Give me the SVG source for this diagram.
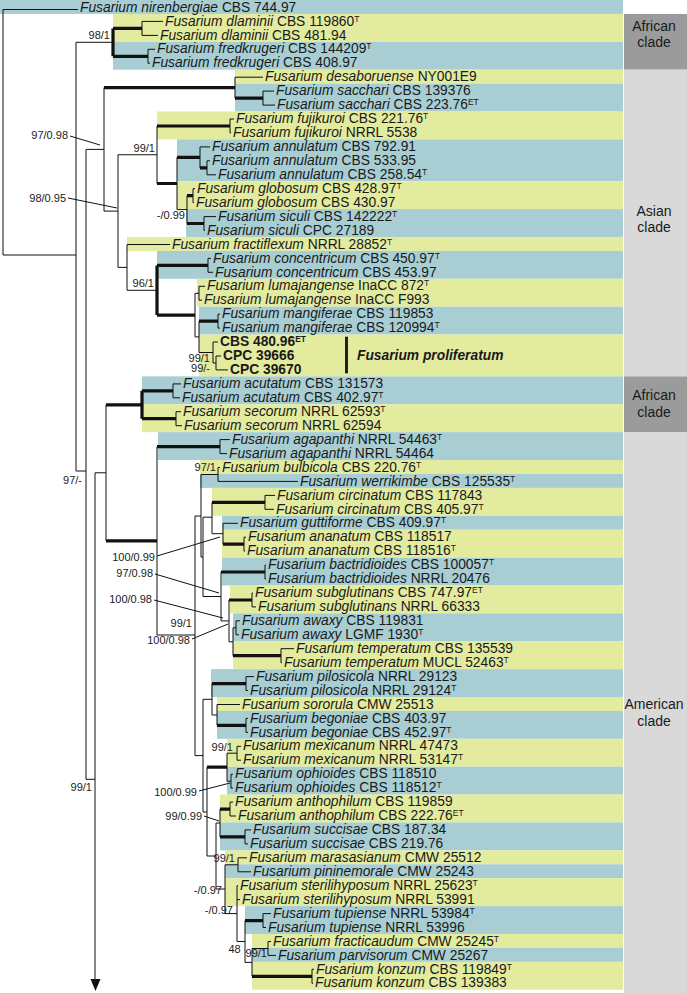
<svg xmlns="http://www.w3.org/2000/svg" width="687" height="993" viewBox="0 0 687 993">
<style>
.ln{fill:none;stroke:#111;stroke-width:1}
.tk{fill:none;stroke:#111;stroke-width:3.2}
.tl{fill:#a8ced3}
.yl{fill:#e3eb9f}
.dg{fill:#9b9b9b}
.lg{fill:#d9d9d9}
text{font-family:"Liberation Sans",Arial,sans-serif;fill:#1a1a1a}
.lf{font-size:13.8px}
.i{font-style:italic}
.bd{font-weight:bold}
.sp{font-size:8.5px}
.s{font-size:11px;text-anchor:end}
.c{font-size:14px;text-anchor:middle}
</style>
<rect width="687" height="993" fill="#fff"/>
<g id="bands">
<rect class="tl" x="0" y="0" width="623" height="13.94"/>
<rect class="yl" x="113" y="13.94" width="510" height="27.88"/>
<rect class="tl" x="113" y="41.82" width="510" height="27.88"/>
<rect class="yl" x="235" y="69.70" width="388" height="13.94"/>
<rect class="tl" x="235" y="83.64" width="388" height="27.88"/>
<rect class="yl" x="157" y="111.52" width="466" height="27.88"/>
<rect class="tl" x="177" y="139.40" width="446" height="41.82"/>
<rect class="yl" x="177" y="181.22" width="446" height="27.88"/>
<rect class="tl" x="186" y="209.10" width="437" height="27.88"/>
<rect class="yl" x="127" y="236.98" width="496" height="13.94"/>
<rect class="tl" x="157" y="250.92" width="466" height="27.88"/>
<rect class="yl" x="197" y="278.80" width="426" height="27.88"/>
<rect class="tl" x="199" y="306.68" width="424" height="27.88"/>
<rect class="yl" x="199" y="334.56" width="424" height="41.82"/>
<rect class="tl" x="142" y="376.38" width="481" height="27.88"/>
<rect class="yl" x="142" y="404.26" width="481" height="27.88"/>
<rect class="tl" x="158" y="432.14" width="465" height="27.88"/>
<rect class="yl" x="200" y="460.02" width="423" height="13.94"/>
<rect class="tl" x="200" y="473.96" width="423" height="13.94"/>
<rect class="yl" x="212" y="487.90" width="411" height="27.88"/>
<rect class="tl" x="222" y="515.78" width="401" height="13.94"/>
<rect class="yl" x="222" y="529.72" width="401" height="27.88"/>
<rect class="tl" x="222" y="557.60" width="401" height="27.88"/>
<rect class="yl" x="230" y="585.48" width="393" height="27.88"/>
<rect class="tl" x="233" y="613.36" width="390" height="27.88"/>
<rect class="yl" x="233" y="641.24" width="390" height="27.88"/>
<rect class="tl" x="211" y="669.12" width="412" height="27.88"/>
<rect class="yl" x="217" y="697.00" width="406" height="13.94"/>
<rect class="tl" x="217" y="710.94" width="406" height="27.88"/>
<rect class="yl" x="227" y="738.82" width="396" height="27.88"/>
<rect class="tl" x="227" y="766.70" width="396" height="27.88"/>
<rect class="yl" x="220" y="794.58" width="403" height="27.88"/>
<rect class="tl" x="220" y="822.46" width="403" height="27.88"/>
<rect class="yl" x="225" y="850.34" width="398" height="13.94"/>
<rect class="tl" x="225" y="864.28" width="398" height="13.94"/>
<rect class="yl" x="225" y="878.22" width="398" height="27.88"/>
<rect class="tl" x="245" y="906.10" width="378" height="27.88"/>
<rect class="yl" x="252" y="933.98" width="371" height="13.94"/>
<rect class="tl" x="252" y="947.92" width="371" height="13.94"/>
<rect class="yl" x="252" y="961.86" width="371" height="27.88"/>
</g>
<g id="clades">
<rect class="dg" x="624" y="13.94" width="63" height="55.76"/>
<rect class="lg" x="624" y="69.70" width="63" height="306.68"/>
<rect class="dg" x="624" y="376.38" width="63" height="55.76"/>
<rect class="lg" x="624" y="432.14" width="63" height="560.86"/>
<text class="c" x="654" y="30.7">African</text>
<text class="c" x="654" y="47.3">clade</text>
<text class="c" x="654" y="215.7">Asian</text>
<text class="c" x="654" y="232.3">clade</text>
<text class="c" x="654" y="400">African</text>
<text class="c" x="654" y="416.7">clade</text>
<text class="c" x="654" y="709.3">American</text>
<text class="c" x="654" y="726">clade</text>
</g>
<g id="connectors">
<path class="ln" d="M3 9.5V255M3 9.5H78M3 255H76"/>
<path class="ln" d="M76 42.3V471M76 42.3H113M76 471H86"/>
<path class="ln" d="M142 21.4V35.4M142 21.4H163M142 35.4H158"/>
<path class="ln" d="M148 49.3V63.2M148 49.3H155M148 63.2H150"/>
<path class="ln" d="M86 149.4V779.3M86 149.4H104M86 779.3H95"/>
<path class="ln" d="M104 87.6V211.1M104 211.1H118"/>
<path class="ln" d="M235 77.2V98.1M235 77.2H263"/>
<path class="ln" d="M263 91.1V105.1M263 91.1H274M263 105.1H275"/>
<path class="ln" d="M118 154.75V267.4M118 154.75H157M118 267.4H127"/>
<path class="ln" d="M157 126V183.5"/>
<path class="ln" d="M230 119V132.9M230 119H234M230 132.9H231"/>
<path class="ln" d="M177 157.3V209.6M177 209.6H187"/>
<path class="ln" d="M200 146.9V167.8M200 146.9H210"/>
<path class="ln" d="M207 160.8V174.8M207 160.8H210M207 174.8H216"/>
<path class="ln" d="M187 195.6V223.5"/>
<path class="ln" d="M193 188.7V202.6M193 188.7H195M193 202.6H194"/>
<path class="ln" d="M204 216.6V230.5M204 216.6H216M204 230.5H205"/>
<path class="ln" d="M127 244.5V290.3M127 244.5H170M127 290.3H157"/>
<path class="ln" d="M208 258.4V272.3M208 258.4H211M208 272.3H213"/>
<path class="ln" d="M195 293.3V336.9M195 293.3H199M195 336.9H199"/>
<path class="ln" d="M199 286.3V300.2M199 286.3H205M199 300.2H202"/>
<path class="ln" d="M199 321.2V352.5M199 352.5H213"/>
<path class="ln" d="M218 314.2V328.1M218 314.2H220M218 328.1H220"/>
<path class="ln" d="M213 342V363M213 342H218M213 363H216"/>
<path class="ln" d="M216 356V369.9M216 356H221M216 369.9H228"/>
<path class="ln" d="M95 472.8V981M95 472.8H106"/>
<path class="ln" d="M106 404.8V540.8"/>
<path class="ln" d="M173 383.9V397.8M173 383.9H181M173 397.8H180"/>
<path class="ln" d="M176 411.7V425.7M176 411.7H181M176 425.7H182"/>
<path class="ln" d="M157 446.6V635M157 635H195"/>
<path class="ln" d="M220 439.6V453.6M220 439.6H230M220 453.6H227"/>
<path class="ln" d="M195 516V755.6M195 516H201M195 755.6H203"/>
<path class="ln" d="M201 474.5V557M201 474.5H218M201 557H203"/>
<path class="ln" d="M218 467.5V481.4M218 467.5H220M218 481.4H298"/>
<path class="ln" d="M203 517.2V596.5M203 517.2H212M203 596.5H221"/>
<path class="ln" d="M212 502.4V533.7M212 533.7H223"/>
<path class="ln" d="M265 495.4V509.3M265 495.4H275M265 509.3H274"/>
<path class="ln" d="M223 523.3V544.2M223 523.3H238"/>
<path class="ln" d="M244 537.2V551.1M244 537.2H246M244 551.1H245"/>
<path class="ln" d="M221 572V620.9M221 620.9H229"/>
<path class="ln" d="M265 565.1V579M265 565.1H266M265 579H266"/>
<path class="ln" d="M229 600V641.8M229 641.8H233"/>
<path class="ln" d="M252 593V606.9M252 593H253M252 606.9H256"/>
<path class="ln" d="M233 627.8V655.7M233 627.8H236"/>
<path class="ln" d="M236 620.8V634.8M236 620.8H240M236 634.8H239"/>
<path class="ln" d="M281 648.7V662.7M281 648.7H294M281 662.7H282"/>
<path class="ln" d="M203 699.3V812M203 699.3H212M203 812H207"/>
<path class="ln" d="M212 683.6V715M212 715H217"/>
<path class="ln" d="M246 676.6V690.5M246 676.6H254M246 690.5H248"/>
<path class="ln" d="M217 704.5V725.4M217 704.5H240"/>
<path class="ln" d="M246 718.4V732.4M246 718.4H248M246 732.4H248"/>
<path class="ln" d="M207 767.2V856M207 856H216"/>
<path class="ln" d="M227 753.2V781.2M227 753.2H237M227 781.2H231"/>
<path class="ln" d="M237 746.3V760.2M237 746.3H241M237 760.2H241"/>
<path class="ln" d="M231 774.2V788.1M231 774.2H233M231 788.1H233"/>
<path class="ln" d="M216 823V889M216 823H220M216 889H225"/>
<path class="ln" d="M220 809.1V836.9"/>
<path class="ln" d="M230 802.1V816M230 802.1H233M230 816H236"/>
<path class="ln" d="M245 829.9V843.9M245 829.9H251M245 843.9H248"/>
<path class="ln" d="M225 864.8V913.6M225 864.8H238M225 913.6H237"/>
<path class="ln" d="M238 857.8V871.8M238 857.8H247M238 871.8H251"/>
<path class="ln" d="M237 885.7V941.5M237 885.7H238M237 899.6H240M237 941.5H245"/>
<path class="ln" d="M245 920.6V962.4M245 962.4H252"/>
<path class="ln" d="M263 913.6V927.5M263 913.6H271M263 927.5H266"/>
<path class="ln" d="M252 948.5V976.3M252 948.5H268"/>
<path class="ln" d="M268 941.5V955.4M268 941.5H271M268 955.4H276"/>
<path class="ln" d="M312 969.3V983.3M312 969.3H314M312 983.3H313"/>
<path class="tk" d="M113 28.4V56.3M113 28.4H142M113 56.3H148"/>
<path class="tk" d="M104 87.6H235M235 98.1H263"/>
<path class="tk" d="M157 126H230M157 183.5H177M177 157.3H200M200 167.8H207"/>
<path class="tk" d="M187 195.6H193M187 223.5H204"/>
<path class="tk" d="M157 265.4V315.1M157 265.4H208M157 315.1H195M199 321.2H218"/>
<path class="tk" d="M106 404.8H142M106 540.8H157"/>
<path class="tk" d="M142 390.8V418.7M142 390.8H173M142 418.7H176"/>
<path class="tk" d="M157 446.6H220M212 502.4H265M223 544.2H244M221 572H265M229 600H252M233 655.7H281"/>
<path class="tk" d="M212 683.6H246M217 725.4H246M207 767.2H227M220 809.1H230M220 836.9H245"/>
<path class="tk" d="M245 920.6H263M252 976.3H312"/>
<polygon points="90.5,979 100.5,979 95.5,991" fill="#111"/>
</g>
<g id="supports">
<text class="s" x="110" y="38.5">98/1</text>
<text class="s" x="68" y="139">97/0.98</text>
<path class="ln" d="M70 136L100 145"/>
<text class="s" x="155" y="151.7">99/1</text>
<text class="s" x="66" y="201.7">98/0.95</text>
<path class="ln" d="M68 198L117 208"/>
<text class="s" x="185" y="219">-/0.99</text>
<text class="s" x="154" y="287.3">96/1</text>
<text class="s" x="210" y="361.7">99/1</text>
<text class="s" x="210" y="372.3">99/-</text>
<text class="s" x="82" y="484.3">97/-</text>
<text class="s" x="216" y="470.7">97/1</text>
<text class="s" x="155" y="560.7">100/0.99</text>
<path class="ln" d="M157 556L220 537"/>
<text class="s" x="153" y="577.3">97/0.98</text>
<path class="ln" d="M155 574L219 593"/>
<text class="s" x="152" y="603.3">100/0.98</text>
<path class="ln" d="M154 600L223 618"/>
<text class="s" x="192" y="627.3">99/1</text>
<text class="s" x="190" y="644">100/0.98</text>
<path class="ln" d="M192 639L228 624"/>
<text class="s" x="233" y="750.7">99/1</text>
<text class="s" x="92" y="790.7">99/1</text>
<text class="s" x="197" y="795.7">100/0.99</text>
<path class="ln" d="M199 791L230 783"/>
<text class="s" x="202" y="819.7">99/0.99</text>
<path class="ln" d="M204 816L219 821"/>
<text class="s" x="235" y="862.3">99/1</text>
<text class="s" x="222" y="894">-/0.97</text>
<text class="s" x="233" y="914">-/0.97</text>
<text class="s" x="240.7" y="953">48</text>
<text class="s" x="267" y="957.3">99/1</text>
</g>
<g id="leaves">
<g id="l00"><text class="lf" x="80" y="11.8"><tspan class="i">Fusarium nirenbergiae</tspan> CBS 744.97</text></g>
<g id="l01"><text class="lf" x="165" y="25.61"><tspan class="i">Fusarium dlaminii</tspan> CBS 119860<tspan class="sp" dy="-4">T</tspan></text></g>
<g id="l02"><text class="lf" x="160" y="39.55"><tspan class="i">Fusarium dlaminii</tspan> CBS 481.94</text></g>
<g id="l03"><text class="lf" x="157" y="53.49"><tspan class="i">Fusarium fredkrugeri</tspan> CBS 144209<tspan class="sp" dy="-4">T</tspan></text></g>
<g id="l04"><text class="lf" x="152" y="67.43"><tspan class="i">Fusarium fredkrugeri</tspan> CBS 408.97</text></g>
<g id="l05"><text class="lf" x="265" y="81.37"><tspan class="i">Fusarium desaboruense</tspan> NY001E9</text></g>
<g id="l06"><text class="lf" x="276" y="95.31"><tspan class="i">Fusarium sacchari</tspan> CBS 139376</text></g>
<g id="l07"><text class="lf" x="277" y="109.25"><tspan class="i">Fusarium sacchari</tspan> CBS 223.76<tspan class="sp" dy="-4">ET</tspan></text></g>
<g id="l08"><text class="lf" x="236" y="123.19"><tspan class="i">Fusarium fujikuroi</tspan> CBS 221.76<tspan class="sp" dy="-4">T</tspan></text></g>
<g id="l09"><text class="lf" x="233" y="137.13"><tspan class="i">Fusarium fujikuroi</tspan> NRRL 5538</text></g>
<g id="l10"><text class="lf" x="212" y="151.07"><tspan class="i">Fusarium annulatum</tspan> CBS 792.91</text></g>
<g id="l11"><text class="lf" x="212" y="165.01"><tspan class="i">Fusarium annulatum</tspan> CBS 533.95</text></g>
<g id="l12"><text class="lf" x="218" y="178.95"><tspan class="i">Fusarium annulatum</tspan> CBS 258.54<tspan class="sp" dy="-4">T</tspan></text></g>
<g id="l13"><text class="lf" x="197" y="192.89"><tspan class="i">Fusarium globosum</tspan> CBS 428.97<tspan class="sp" dy="-4">T</tspan></text></g>
<g id="l14"><text class="lf" x="196" y="206.83"><tspan class="i">Fusarium globosum</tspan> CBS 430.97</text></g>
<g id="l15"><text class="lf" x="218" y="220.77"><tspan class="i">Fusarium siculi</tspan> CBS 142222<tspan class="sp" dy="-4">T</tspan></text></g>
<g id="l16"><text class="lf" x="207" y="234.71"><tspan class="i">Fusarium siculi</tspan> CPC 27189</text></g>
<g id="l17"><text class="lf" x="172" y="248.65"><tspan class="i">Fusarium fractiflexum</tspan> NRRL 28852<tspan class="sp" dy="-4">T</tspan></text></g>
<g id="l18"><text class="lf" x="213" y="262.59"><tspan class="i">Fusarium concentricum</tspan> CBS 450.97<tspan class="sp" dy="-4">T</tspan></text></g>
<g id="l19"><text class="lf" x="215" y="276.53"><tspan class="i">Fusarium concentricum</tspan> CBS 453.97</text></g>
<g id="l20"><text class="lf" x="207" y="290.47"><tspan class="i">Fusarium lumajangense</tspan> InaCC 872<tspan class="sp" dy="-4">T</tspan></text></g>
<g id="l21"><text class="lf" x="204" y="304.41"><tspan class="i">Fusarium lumajangense</tspan> InaCC F993</text></g>
<g id="l22"><text class="lf" x="222" y="318.35"><tspan class="i">Fusarium mangiferae</tspan> CBS 119853</text></g>
<g id="l23"><text class="lf" x="222" y="332.29"><tspan class="i">Fusarium mangiferae</tspan> CBS 120994<tspan class="sp" dy="-4">T</tspan></text></g>
<g id="l24"><text class="lf bd" x="220" y="346.23">CBS 480.96<tspan class="sp" dy="-4">ET</tspan></text></g>
<g id="l25"><text class="lf bd" x="223" y="360.17">CPC 39666</text></g>
<g id="l26"><text class="lf bd" x="230" y="374.11">CPC 39670</text></g>
<g id="proliferatum"><rect x="345" y="336.7" width="3" height="36.6" fill="#222"/><text class="lf bd i" x="357" y="360.2">Fusarium proliferatum</text></g>
<g id="l27"><text class="lf" x="183" y="388.05"><tspan class="i">Fusarium acutatum</tspan> CBS 131573</text></g>
<g id="l28"><text class="lf" x="182" y="401.99"><tspan class="i">Fusarium acutatum</tspan> CBS 402.97<tspan class="sp" dy="-4">T</tspan></text></g>
<g id="l29"><text class="lf" x="183" y="415.93"><tspan class="i">Fusarium secorum</tspan> NRRL 62593<tspan class="sp" dy="-4">T</tspan></text></g>
<g id="l30"><text class="lf" x="184" y="429.87"><tspan class="i">Fusarium secorum</tspan> NRRL 62594</text></g>
<g id="l31"><text class="lf" x="232" y="443.81"><tspan class="i">Fusarium agapanthi</tspan> NRRL 54463<tspan class="sp" dy="-4">T</tspan></text></g>
<g id="l32"><text class="lf" x="229" y="457.75"><tspan class="i">Fusarium agapanthi</tspan> NRRL 54464</text></g>
<g id="l33"><text class="lf" x="222" y="471.69"><tspan class="i">Fusarium bulbicola</tspan> CBS 220.76<tspan class="sp" dy="-4">T</tspan></text></g>
<g id="l34"><text class="lf" x="300" y="485.63"><tspan class="i">Fusarium werrikimbe</tspan> CBS 125535<tspan class="sp" dy="-4">T</tspan></text></g>
<g id="l35"><text class="lf" x="277" y="499.57"><tspan class="i">Fusarium circinatum</tspan> CBS 117843</text></g>
<g id="l36"><text class="lf" x="276" y="513.51"><tspan class="i">Fusarium circinatum</tspan> CBS 405.97<tspan class="sp" dy="-4">T</tspan></text></g>
<g id="l37"><text class="lf" x="240" y="527.45"><tspan class="i">Fusarium guttiforme</tspan> CBS 409.97<tspan class="sp" dy="-4">T</tspan></text></g>
<g id="l38"><text class="lf" x="248" y="541.39"><tspan class="i">Fusarium ananatum</tspan> CBS 118517</text></g>
<g id="l39"><text class="lf" x="247" y="555.33"><tspan class="i">Fusarium ananatum</tspan> CBS 118516<tspan class="sp" dy="-4">T</tspan></text></g>
<g id="l40"><text class="lf" x="268" y="569.27"><tspan class="i">Fusarium bactridioides</tspan> CBS 100057<tspan class="sp" dy="-4">T</tspan></text></g>
<g id="l41"><text class="lf" x="268" y="583.21"><tspan class="i">Fusarium bactridioides</tspan> NRRL 20476</text></g>
<g id="l42"><text class="lf" x="255" y="597.15"><tspan class="i">Fusarium subglutinans</tspan> CBS 747.97<tspan class="sp" dy="-4">ET</tspan></text></g>
<g id="l43"><text class="lf" x="258" y="611.09"><tspan class="i">Fusarium subglutinans</tspan> NRRL 66333</text></g>
<g id="l44"><text class="lf" x="242" y="625.03"><tspan class="i">Fusarium awaxy</tspan> CBS 119831</text></g>
<g id="l45"><text class="lf" x="241" y="638.97"><tspan class="i">Fusarium awaxy</tspan> LGMF 1930<tspan class="sp" dy="-4">T</tspan></text></g>
<g id="l46"><text class="lf" x="296" y="652.91"><tspan class="i">Fusarium temperatum</tspan> CBS 135539</text></g>
<g id="l47"><text class="lf" x="284" y="666.85"><tspan class="i">Fusarium temperatum</tspan> MUCL 52463<tspan class="sp" dy="-4">T</tspan></text></g>
<g id="l48"><text class="lf" x="256" y="680.79"><tspan class="i">Fusarium pilosicola</tspan> NRRL 29123</text></g>
<g id="l49"><text class="lf" x="250" y="694.73"><tspan class="i">Fusarium pilosicola</tspan> NRRL 29124<tspan class="sp" dy="-4">T</tspan></text></g>
<g id="l50"><text class="lf" x="242" y="708.67"><tspan class="i">Fusarium sororula</tspan> CMW 25513</text></g>
<g id="l51"><text class="lf" x="250" y="722.61"><tspan class="i">Fusarium begoniae</tspan> CBS 403.97</text></g>
<g id="l52"><text class="lf" x="250" y="736.55"><tspan class="i">Fusarium begoniae</tspan> CBS 452.97<tspan class="sp" dy="-4">T</tspan></text></g>
<g id="l53"><text class="lf" x="243" y="750.49"><tspan class="i">Fusarium mexicanum</tspan> NRRL 47473</text></g>
<g id="l54"><text class="lf" x="243" y="764.43"><tspan class="i">Fusarium mexicanum</tspan> NRRL 53147<tspan class="sp" dy="-4">T</tspan></text></g>
<g id="l55"><text class="lf" x="235" y="778.37"><tspan class="i">Fusarium ophioides</tspan> CBS 118510</text></g>
<g id="l56"><text class="lf" x="235" y="792.31"><tspan class="i">Fusarium ophioides</tspan> CBS 118512<tspan class="sp" dy="-4">T</tspan></text></g>
<g id="l57"><text class="lf" x="235" y="806.25"><tspan class="i">Fusarium anthophilum</tspan> CBS 119859</text></g>
<g id="l58"><text class="lf" x="238" y="820.19"><tspan class="i">Fusarium anthophilum</tspan> CBS 222.76<tspan class="sp" dy="-4">ET</tspan></text></g>
<g id="l59"><text class="lf" x="253" y="834.13"><tspan class="i">Fusarium succisae</tspan> CBS 187.34</text></g>
<g id="l60"><text class="lf" x="250" y="848.07"><tspan class="i">Fusarium succisae</tspan> CBS 219.76</text></g>
<g id="l61"><text class="lf" x="249" y="862.01"><tspan class="i">Fusarium marasasianum</tspan> CMW 25512</text></g>
<g id="l62"><text class="lf" x="253" y="875.95"><tspan class="i">Fusarium pininemorale</tspan> CMW 25243</text></g>
<g id="l63"><text class="lf" x="240" y="889.89"><tspan class="i">Fusarium sterilihyposum</tspan> NRRL 25623<tspan class="sp" dy="-4">T</tspan></text></g>
<g id="l64"><text class="lf" x="242" y="903.83"><tspan class="i">Fusarium sterilihyposum</tspan> NRRL 53991</text></g>
<g id="l65"><text class="lf" x="273" y="917.77"><tspan class="i">Fusarium tupiense</tspan> NRRL 53984<tspan class="sp" dy="-4">T</tspan></text></g>
<g id="l66"><text class="lf" x="268" y="931.71"><tspan class="i">Fusarium tupiense</tspan> NRRL 53996</text></g>
<g id="l67"><text class="lf" x="273" y="945.65"><tspan class="i">Fusarium fracticaudum</tspan> CMW 25245<tspan class="sp" dy="-4">T</tspan></text></g>
<g id="l68"><text class="lf" x="278" y="959.59"><tspan class="i">Fusarium parvisorum</tspan> CMW 25267</text></g>
<g id="l69"><text class="lf" x="316" y="973.53"><tspan class="i">Fusarium konzum</tspan> CBS 119849<tspan class="sp" dy="-4">T</tspan></text></g>
<g id="l70"><text class="lf" x="315" y="987.47"><tspan class="i">Fusarium konzum</tspan> CBS 139383</text></g>
</g>
</svg>
